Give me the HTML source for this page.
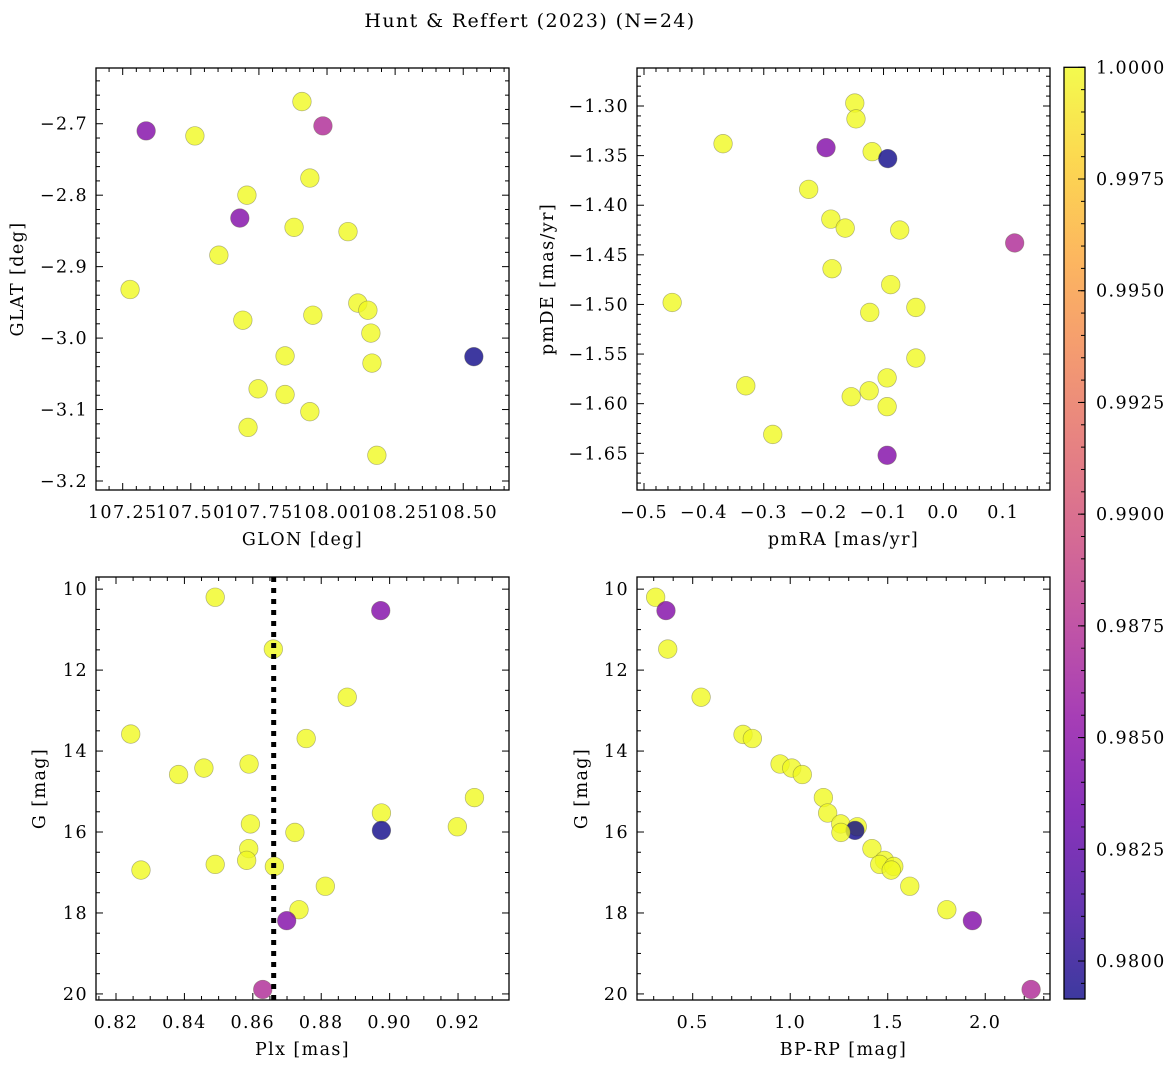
<!DOCTYPE html>
<html><head><meta charset="utf-8"><style>
body{margin:0;background:#fff;}
svg{display:block;font-family:"DejaVu Serif","Liberation Serif",serif;}
svg text{letter-spacing:1.4px;}
</style></head><body>
<svg id="fig" width="1173" height="1067" viewBox="0 0 1173 1067" xmlns="http://www.w3.org/2000/svg">
<defs>
<linearGradient id="plasma" x1="0" y1="1" x2="0" y2="0">
<stop offset="0" stop-color="#0d0887"/><stop offset="0.1" stop-color="#41049d"/><stop offset="0.2" stop-color="#6a00a8"/><stop offset="0.3" stop-color="#8f0da4"/><stop offset="0.4" stop-color="#b12a90"/><stop offset="0.5" stop-color="#cc4778"/><stop offset="0.6" stop-color="#e16462"/><stop offset="0.7" stop-color="#f2844b"/><stop offset="0.8" stop-color="#fca636"/><stop offset="0.9" stop-color="#fcce25"/><stop offset="1" stop-color="#f0f921"/>
</linearGradient>
</defs>
<text x="530" y="27" font-size="19" text-anchor="middle">Hunt &amp; Reffert (2023) (N=24)</text>
</svg>
<script>
// Panel A: GLON vs GLAT
const glonA=[107.336,107.515,107.908,107.985,107.937,107.706,107.680,107.879,108.077,107.603,107.277,108.113,108.150,107.948,107.691,108.161,108.539,107.846,108.165,107.747,107.846,107.937,107.710,108.183];
const glatA=[-2.710,-2.717,-2.669,-2.703,-2.776,-2.800,-2.832,-2.845,-2.851,-2.884,-2.932,-2.951,-2.961,-2.968,-2.975,-2.993,-3.026,-3.025,-3.035,-3.071,-3.079,-3.103,-3.125,-3.164];
const probA=[0.9845,1,1,0.9872,1,1,0.9845,1,1,1,1,1,1,1,1,1,0.9792,1,1,1,1,1,1,1];
// Panel B: pmRA vs pmDE
const pmraB=[-0.148,-0.146,-0.368,-0.196,-0.119,-0.093,-0.225,-0.188,-0.164,-0.073,0.119,-0.186,-0.088,-0.453,-0.123,-0.046,-0.046,-0.094,-0.330,-0.124,-0.154,-0.094,-0.285,-0.094];
const pmdeB=[-1.297,-1.313,-1.338,-1.342,-1.346,-1.353,-1.384,-1.414,-1.423,-1.425,-1.438,-1.464,-1.480,-1.498,-1.508,-1.503,-1.554,-1.574,-1.582,-1.587,-1.593,-1.603,-1.631,-1.652];
const probB=[1,1,1,0.9845,1,0.9792,1,1,1,1,0.9872,1,1,1,1,1,1,1,1,1,1,1,1,0.9845];
// Panel C: Plx vs G
const plxC=[0.8490,0.8974,0.8660,0.8876,0.8243,0.8756,0.8589,0.8457,0.8383,0.9248,0.8976,0.8593,0.9198,0.8976,0.8723,0.8588,0.8582,0.8490,0.8663,0.8273,0.8812,0.8735,0.8699,0.8629];
const gC=[10.20,10.53,11.48,12.67,13.58,13.69,14.32,14.42,14.58,15.15,15.53,15.80,15.87,15.96,16.01,16.41,16.70,16.80,16.85,16.94,17.34,17.92,18.19,19.89];
const probC=[1,0.9845,1,1,1,1,1,1,1,1,1,1,1,0.9792,1,1,1,1,1,1,1,1,0.9845,0.9872];
// Panel D: BP-RP vs G
const bprpD=[0.310,0.363,0.372,0.543,0.758,0.806,0.948,1.008,1.062,1.170,1.192,1.259,1.344,1.332,1.260,1.419,1.483,1.459,1.531,1.518,1.613,1.803,1.934,2.235];
const gD=[10.20,10.53,11.48,12.67,13.59,13.69,14.32,14.42,14.58,15.15,15.53,15.80,15.87,15.96,16.01,16.41,16.70,16.80,16.85,16.94,17.34,17.92,18.19,19.89];
const probD=[1,0.9845,1,1,1,1,1,1,1,1,1,1,1,0.9792,1,1,1,1,1,1,1,1,0.9845,0.9872];
const plxMedian=[0.8661];
const cbTicks=[0.9800,0.9825,0.9850,0.9875,0.9900,0.9925,0.9950,0.9975,1.0000];
const VMIN=0.97915, VMAX=1.0;

const NS="http://www.w3.org/2000/svg";
const svg=document.getElementById('fig');
const FS=17.5;
function mk(tag,attrs,parent){const e=document.createElementNS(NS,tag);for(const k in attrs)e.setAttribute(k,attrs[k]);(parent||svg).appendChild(e);return e;}
const stops=[[13,8,135],[65,4,157],[106,0,168],[143,13,164],[177,42,144],[204,71,120],[225,100,98],[242,132,75],[252,166,54],[252,206,37],[240,249,33]];
function plasma(v){let t=(v-VMIN)/(VMAX-VMIN);t=Math.max(0,Math.min(1,t));const f=t*10;const i=Math.min(9,Math.floor(f));const r=f-i;const a=stops[i],b=stops[i+1];return 'rgb('+[0,1,2].map(k=>Math.round(a[k]+(b[k]-a[k])*r)).join(',')+')';}
function fmt(v,d){const s=Math.abs(v).toFixed(d);return (v<-1e-9?'\u2212':'')+s;}

function panel(cfg){
  const g=mk('g',{});
  
  
  const {L,T,R,B}=cfg;
  const sx=v=>L+(v-cfg.x0)/(cfg.x1-cfg.x0)*(R-L);
  const sy=v=>cfg.yinv? T+(v-cfg.y0)/(cfg.y1-cfg.y0)*(B-T) : B-(v-cfg.y0)/(cfg.y1-cfg.y0)*(B-T);
  const tg=mk('g',{stroke:'#000','stroke-width':1},g);
  
  
  const xs=Math.min(cfg.x0,cfg.x1), xe=Math.max(cfg.x0,cfg.x1);
  for(let k=Math.ceil(xs/cfg.xmin-1e-6);k*cfg.xmin<=xe+1e-9;k++){
    const v=k*cfg.xmin;const isMaj=Math.abs(v/cfg.xmaj-Math.round(v/cfg.xmaj))<1e-6;const l=isMaj?7:4;const x=sx(v);
    mk('line',{x1:x,y1:B,x2:x,y2:B-l},tg);mk('line',{x1:x,y1:T,x2:x,y2:T+l},tg);
    if(isMaj){const t=mk('text',{x:x,y:B+28,'font-size':FS,'text-anchor':'middle',stroke:'none',fill:'#000'},g);t.textContent=fmt(v,cfg.xd);
      
      }
  }
  const ys=Math.min(cfg.y0,cfg.y1), ye=Math.max(cfg.y0,cfg.y1);
  for(let k=Math.ceil(ys/cfg.ymin-1e-6);k*cfg.ymin<=ye+1e-9;k++){
    const v=k*cfg.ymin;const isMaj=Math.abs(v/cfg.ymaj-Math.round(v/cfg.ymaj))<1e-6;const l=isMaj?7:4;const y=sy(v);
    mk('line',{x1:L,y1:y,x2:L+l,y2:y},tg);mk('line',{x1:R,y1:y,x2:R-l,y2:y},tg);
    if(isMaj){const t=mk('text',{x:L-8,y:y+6,'font-size':FS,'text-anchor':'end',stroke:'none',fill:'#000'},g);t.textContent=fmt(v,cfg.yd);
      
      }
  }
  for(let i=0;i<cfg.xv.length;i++){
    const c=mk('circle',{cx:sx(cfg.xv[i]),cy:sy(cfg.yv[i]),r:9.3,fill:plasma(cfg.pv[i]),'fill-opacity':0.8,stroke:'rgba(90,90,60,0.45)','stroke-width':0.7},g);
    
    
  }
  if(cfg.vline){for(const v of cfg.vline){const x=sx(v);const ln=mk('line',{x1:x,y1:T,x2:x,y2:B,stroke:'#000','stroke-width':5,'stroke-dasharray':'5,6'},g);
    
    }}
  const fr=mk('rect',{x:L,y:T,width:R-L,height:B-T,fill:'none',stroke:'#000','stroke-width':1.3},g);
  
  
  const xl=mk('text',{x:(L+R)/2,y:B+55,'font-size':FS,'text-anchor':'middle'},g);xl.textContent=cfg.xlabel;
  
  
  const yl=mk('text',{x:0,y:0,'font-size':FS,'text-anchor':'middle',transform:'translate('+cfg.ylx+','+((T+B)/2)+') rotate(-90)'},g);yl.textContent=cfg.ylabel;
  
  
}
panel({name:'glon-glat-panel',L:96,T:68,R:509,B:490,x0:107.152,x1:108.668,y0:-3.2126,y1:-2.622,xmaj:0.25,xmin:0.05,ymaj:0.1,ymin:0.02,xd:2,yd:1,xv:glonA,yv:glatA,pv:probA,xlabel:'GLON [deg]',ylabel:'GLAT [deg]',ylx:23});
panel({name:'pm-panel',L:637,T:68,R:1050,B:490,x0:-0.5117,x1:0.178,y0:-1.687,y1:-1.2617,xmaj:0.1,xmin:0.02,ymaj:0.05,ymin:0.01,xd:1,yd:2,xv:pmraB,yv:pmdeB,pv:probB,xlabel:'pmRA [mas/yr]',ylabel:'pmDE [mas/yr]',ylx:553});
panel({name:'plx-g-panel',L:96,T:577,R:509,B:1000,x0:0.81415,x1:0.9349,y0:9.70,y1:20.15,yinv:true,xmaj:0.02,xmin:0.005,ymaj:2,ymin:0.5,xd:2,yd:0,xv:plxC,yv:gC,pv:probC,xlabel:'Plx [mas]',ylabel:'G [mag]',ylx:45,vline:plxMedian});
panel({name:'cmd-panel',L:637,T:577,R:1050,B:1000,x0:0.2144,x1:2.332,y0:9.70,y1:20.15,yinv:true,xmaj:0.5,xmin:0.1,ymaj:2,ymin:0.5,xd:1,yd:0,xv:bprpD,yv:gD,pv:probD,xlabel:'BP-RP [mag]',ylabel:'G [mag]',ylx:587});

const cb=mk('g',{});


const CL=1064,CR=1085,CT=67.3,CB=999;
mk('rect',{x:CL,y:CT,width:CR-CL,height:CB-CT,fill:'url(#plasma)','fill-opacity':0.8},cb);
const cy=v=>CB-(v-VMIN)/(VMAX-VMIN)*(CB-CT);
for(let k=Math.ceil(VMIN/0.0005-1e-6);k*0.0005<=VMAX+1e-9;k++){const v=k*0.0005;const y=cy(v);mk('line',{x1:CR,y1:y,x2:CR-4,y2:y,stroke:'#000','stroke-width':1},cb);}
for(const v of cbTicks){const y=cy(v);mk('line',{x1:CR,y1:y,x2:CR-7,y2:y,stroke:'#000','stroke-width':1},cb);
  const t=mk('text',{x:1096,y:y+6,'font-size':FS},cb);t.textContent=v.toFixed(4);
  
  }
mk('rect',{x:CL,y:CT,width:CR-CL,height:CB-CT,fill:'none',stroke:'#000','stroke-width':1.3},cb);
</script>
</body></html>
